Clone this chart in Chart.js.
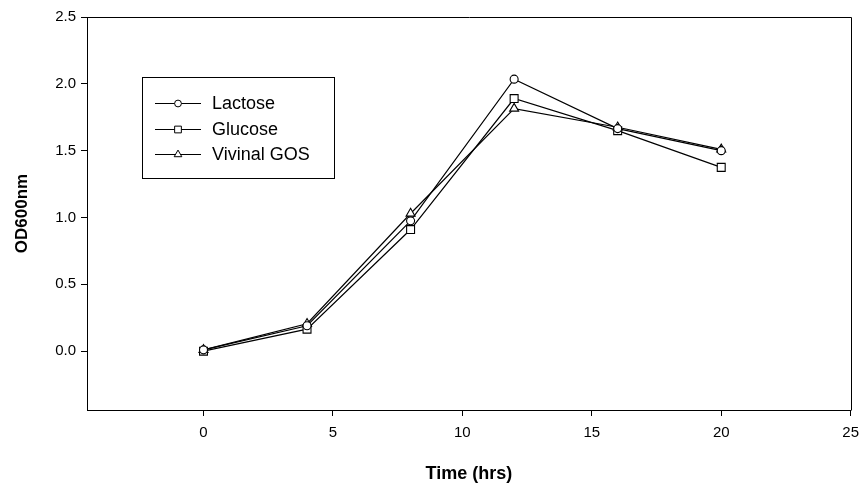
<!DOCTYPE html>
<html lang="en">
<head>
<meta charset="UTF-8">
<title>OD600nm vs Time</title>
<script src="https://cdn.jsdelivr.net/npm/chart.js"></script>
<style>
  body { margin: 0; background: #fff; }
</style>
</head>
<body>
<canvas id="myChart" width="867" height="488"></canvas>
<script>
// data
const timeHrs = [0, 4, 8, 12, 16, 20];
const lactose = [0.01, 0.19, 0.975, 2.035, 1.665, 1.50];
const glucose = [0.0, 0.165, 0.91, 1.89, 1.65, 1.375];
const vivinalGos = [0.01, 0.205, 1.03, 1.815, 1.675, 1.51];
const seriesNames = ['Lactose', 'Glucose', 'Vivinal GOS'];
const xTicks = [0, 5, 10, 15, 20, 25];
const yTicks = [0.0, 0.5, 1.0, 1.5, 2.0, 2.5];

const toPoints = (ys) => ys.map((y, i) => ({ x: timeHrs[i], y: y }));

const markers = [
  { pointStyle: 'circle', radius: 4 },
  { pointStyle: 'rect', radius: 5.6 },
  { pointStyle: 'triangle', radius: 5.2 }
];

const datasets = [lactose, glucose, vivinalGos].map((vals, i) => ({
  label: seriesNames[i],
  data: toPoints(vals),
  borderColor: '#000',
  borderWidth: 1.2,
  backgroundColor: '#fff',
  pointStyle: markers[i].pointStyle,
  pointRadius: markers[i].radius,
  pointBackgroundColor: '#fff',
  pointBorderColor: '#000',
  pointBorderWidth: 1.1,
  showLine: true,
  tension: 0
}));

// top and right frame lines + boxed legend inside the plot
const framePlugin = {
  id: 'frame',
  afterDraw(chart) {
    const ctx = chart.ctx;
    const a = chart.chartArea;
    ctx.save();
    ctx.strokeStyle = '#000';
    ctx.lineWidth = 1;
    ctx.beginPath();
    ctx.moveTo(Math.round(a.left) + 0.5, Math.round(a.top) + 0.5);
    ctx.lineTo(Math.round(a.right) + 0.5, Math.round(a.top) + 0.5);
    ctx.lineTo(Math.round(a.right) + 0.5, Math.round(a.bottom) + 0.5);
    ctx.stroke();

    // legend box
    ctx.strokeRect(142.5, 77.5, 192, 101);
    ctx.font = '18px "Liberation Sans", Arial, sans-serif';
    ctx.textBaseline = 'middle';
    ctx.textAlign = 'left';
    const rows = [103, 129, 154];
    chart.data.datasets.forEach((ds, i) => {
      const y = rows[i] + 0.5;
      ctx.beginPath();
      ctx.moveTo(155, y);
      ctx.lineTo(201, y);
      ctx.stroke();
      ctx.fillStyle = '#fff';
      ctx.strokeStyle = '#000';
      Chart.helpers.drawPoint(ctx, {
        pointStyle: ds.pointStyle,
        radius: ds.pointRadius * 0.85,
        borderWidth: 1,
        rotation: 0
      }, 178, y);
      ctx.fillStyle = '#000';
      ctx.fillText(ds.label, 212, rows[i] + 1);
    });
    ctx.restore();
  }
};

const tickFont = { family: '"Liberation Sans", Arial, sans-serif', size: 15 };
const titleFont = { family: '"Liberation Sans", Arial, sans-serif', size: 18, weight: 'bold' };

new Chart(document.getElementById('myChart').getContext('2d'), {
  type: 'line',
  data: { datasets },
  options: {
    responsive: false,
    animation: false,
    layout: { padding: { top: 17, right: 14, left: 0, bottom: 0 } },
    plugins: {
      legend: { display: false },
      tooltip: { enabled: false }
    },
    scales: {
      x: {
        type: 'linear',
        min: -4.5,
        max: 25,
        afterBuildTicks: (scale) => { scale.ticks = xTicks.map(v => ({ value: v })); },
        afterFit: (scale) => { scale.height = 78; },
        ticks: { color: '#000', font: tickFont, padding: 8, maxRotation: 0, callback: (v) => String(v) },
        grid: { drawOnChartArea: false, drawTicks: true, tickLength: 6, color: '#000', tickColor: '#000' },
        border: { display: true, color: '#000', width: 1 },
        title: { display: true, text: 'Time (hrs)', color: '#000', font: titleFont, padding: { top: 0, bottom: 3 } }
      },
      y: {
        type: 'linear',
        min: -0.44,
        max: 2.5,
        afterBuildTicks: (scale) => { scale.ticks = yTicks.map(v => ({ value: v })); },
        afterFit: (scale) => { scale.width = 87; },
        ticks: { color: '#000', font: tickFont, padding: 5, callback: (v) => Number(v).toFixed(1) },
        grid: { drawOnChartArea: false, drawTicks: true, tickLength: 6, color: '#000', tickColor: '#000' },
        border: { display: true, color: '#000', width: 1 },
        title: { display: true, text: 'OD600nm', color: '#000', font: { family: titleFont.family, size: 17, weight: 'bold' }, padding: { top: 12, bottom: 0 } }
      }
    }
  },
  plugins: [framePlugin]
});
</script>
</body>
</html>
